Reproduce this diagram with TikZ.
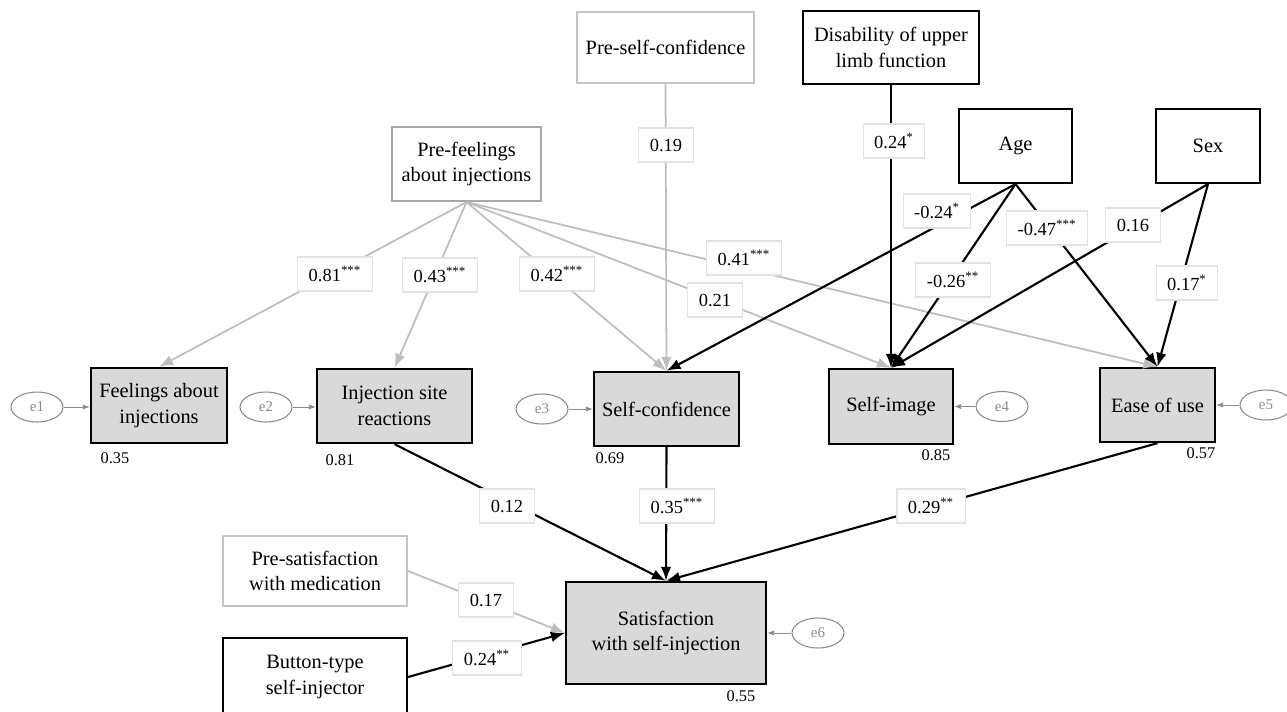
\documentclass[tikz,border=0pt]{standalone}
\usepackage{fontspec}
\setmainfont{Liberation Serif}
\usepackage{xcolor}
\usetikzlibrary{arrows.meta,shapes.geometric}
\definecolor{endofill}{HTML}{D9D9D9}
\definecolor{preline}{HTML}{C4C4C4}
\definecolor{prefline}{HTML}{A8A8A8}
\definecolor{pathgray}{HTML}{BEBEBE}
\definecolor{coefline}{HTML}{E2E2E2}
\definecolor{errline}{HTML}{8A8A8A}
\tikzset{%
boxtext/.style={align=center, inner sep=0pt, font=\fontsize{11.6}{14.5}\selectfont},%
endo/.style={boxtext, draw=black, line width=1.3pt, fill=endofill},%
exo/.style={boxtext, draw=black, line width=1.2pt, fill=white},%
preexo/.style={boxtext, draw=preline, line width=1.2pt, fill=white},%
coef/.style={draw=coefline, line width=0.6pt, fill=white, minimum height=0.68cm, inner xsep=0.22cm, inner ysep=0pt, font=\fontsize{10.5}{12}\selectfont},%
errnode/.style={draw=errline, ellipse, line width=0.6pt, minimum width=1.04cm, minimum height=0.6cm, inner sep=0pt, text=errline, font=\fontsize{8.5}{10}\selectfont},%
rsq/.style={inner sep=0pt, font=\fontsize{9.3}{11}\selectfont},%
blackpath/.style={draw=black, line width=1.2pt, -{Latex[length=8pt,width=6pt]}},%
graypath/.style={draw=pathgray, line width=1.0pt, -{Latex[length=8pt,width=6pt]}},%
errpath/.style={draw=errline, line width=0.5pt, -{Latex[length=4pt,width=3pt]}},%
}
\newcommand{\st}[1]{\textsuperscript{#1}}
\begin{document}
\begin{tikzpicture}[x=0.02cm, y=-0.02cm]%
\useasboundingbox (0,0) rectangle (1287,711);%
\node[preexo, minimum width=3.54cm, minimum height=1.42cm] (presc) at (665.5,47.5) {Pre-self-confidence};%
\node[exo, minimum width=3.52cm, minimum height=1.46cm] (disab) at (891,47.5) {Disability of upper\\limb function};%
\node[exo, minimum width=2.26cm, minimum height=1.48cm] (age) at (1015.5,146) {Age};%
\node[exo, minimum width=2.08cm, minimum height=1.48cm] (sex) at (1208,146) {Sex};%
\node[preexo, draw=prefline, minimum width=2.98cm, minimum height=1.48cm] (prefeel) at (466.5,164) {Pre-feelings\\about injections};%
\node[endo, minimum width=2.72cm, minimum height=1.5cm] (feel) at (159,405.5) {Feelings about\\injections};%
\node[endo, minimum width=3.1cm, minimum height=1.48cm] (inj) at (394.5,406) {Injection site\\reactions};%
\node[endo, minimum width=2.9cm, minimum height=1.48cm] (sconf) at (666.5,409) {Self-confidence};%
\node[endo, minimum width=2.48cm, minimum height=1.5cm] (simg) at (891,406.5) {Self-image};%
\node[endo, minimum width=2.3cm, minimum height=1.48cm] (ease) at (1157.5,405) {Ease of use};%
\node[endo, minimum width=4.0cm, minimum height=2.04cm] (sat) at (666,633) {Satisfaction\\with self-injection};%
\node[preexo, minimum width=3.68cm, minimum height=1.4cm] (presat) at (315,571) {Pre-satisfaction\\with medication};%
\node[exo, minimum width=3.68cm, minimum height=1.56cm] (button) at (315,677) {Button-type\\self-injector};%
\node[errnode] (e1) at (37,407) {e1};%
\node[errnode] (e2) at (266,407) {e2};%
\node[errnode] (e3) at (542,409) {e3};%
\node[errnode] (e4) at (1002,406.5) {e4};%
\node[errnode] (e5) at (1266,405) {e5};%
\node[errnode] (e6) at (818,633) {e6};%
\draw[errpath] (e1) -- (feel.west |- e1);%
\draw[errpath] (e2) -- (inj.west |- e2);%
\draw[errpath] (e3) -- (sconf.west |- e3);%
\draw[errpath] (e4) -- (simg.east |- e4);%
\draw[errpath] (e5) -- (ease.east |- e5);%
\draw[errpath] (e6) -- (sat.east |- e6);%
\draw[graypath] (prefeel.south) -- (feel.north);%
\draw[graypath] (prefeel.south) -- (inj.north);%
\draw[graypath] (prefeel.south) -- (sconf.north);%
\draw[graypath] (prefeel.south) -- (simg.north);%
\draw[graypath] (prefeel.south) -- (ease.north);%
\draw[graypath] (presc.south) -- (sconf.north);%
\draw[graypath] (presat.east) -- (sat.west);%
\draw[blackpath] (disab.south) -- (simg.north);%
\draw[blackpath] (age.south) -- (sconf.north);%
\draw[blackpath] (age.south) -- (simg.north);%
\draw[blackpath] (age.south) -- (ease.north);%
\draw[blackpath] (sex.south) -- (simg.north);%
\draw[blackpath] (sex.south) -- (ease.north);%
\draw[blackpath] (inj.south) -- (sat.north);%
\draw[blackpath] (sconf.south) -- (sat.north);%
\draw[blackpath] (ease.south) -- (sat.north);%
\draw[blackpath] (button.east) -- (sat.west);%
\node[coef] (c19) at (666,145) {0.19};%
\node[coef] (c24d) at (894,141) {0.24\st{*}};%
\node[coef] (c81) at (335,274) {0.81\st{***}};%
\node[coef] (c43) at (440,275) {0.43\st{***}};%
\node[coef] (c42) at (557,274) {0.42\st{***}};%
\node[coef] (c41) at (744,258) {0.41\st{***}};%
\node[coef] (c21) at (715,300) {0.21};%
\node[coef] (c24a) at (937,211) {-0.24\st{*}};%
\node[coef] (c26) at (953,280) {-0.26\st{**}};%
\node[coef] (c47) at (1047,228) {-0.47\st{***}};%
\node[coef] (c16) at (1133,225) {0.16};%
\node[coef] (c17s) at (1187,283) {0.17\st{*}};%
\node[coef] (c12) at (507,506) {0.12};%
\node[coef] (c35) at (677,506) {0.35\st{***}};%
\node[coef] (c29) at (931,506) {0.29\st{**}};%
\node[coef] (c17) at (486,600) {0.17};%
\node[coef] (c24b) at (487,658) {0.24\st{**}};%
\node[rsq] (r1) at (115,458) {0.35};%
\node[rsq] (r2) at (340,460) {0.81};%
\node[rsq] (r3) at (610,458) {0.69};%
\node[rsq] (r4) at (936,455) {0.85};%
\node[rsq] (r5) at (1201,453) {0.57};%
\node[rsq] (r6) at (741,696) {0.55};%
\end{tikzpicture}
\end{document}
